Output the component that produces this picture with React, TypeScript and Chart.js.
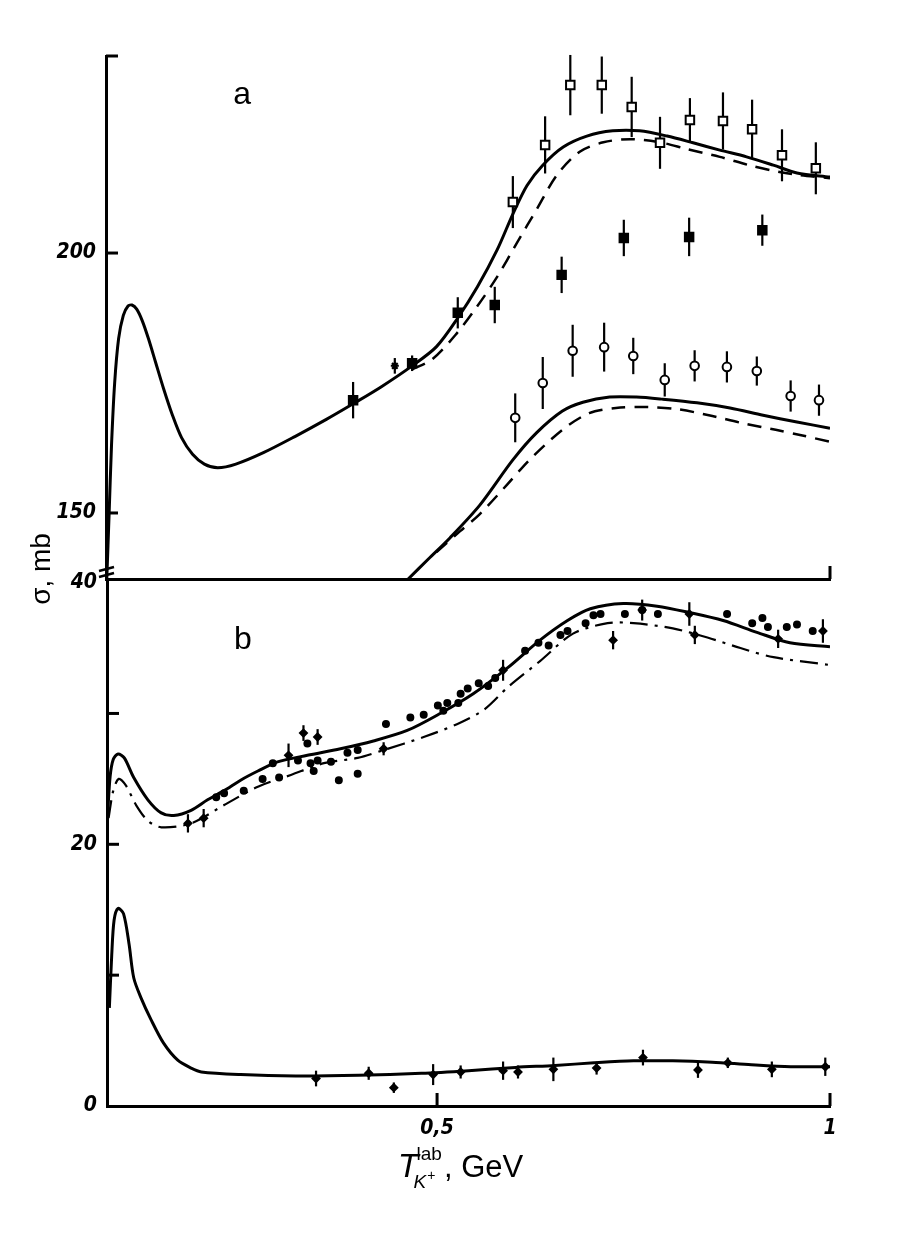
import { useEffect, useRef } from "react";
import { Chart, ChartConfiguration, Plugin, registerables } from "chart.js";

Chart.register(...registerables);

// ---- panel a (upper range, mb) ----
const aSolidHiX = [0.081, 0.084, 0.087, 0.091, 0.096, 0.102, 0.108, 0.113, 0.119, 0.126, 0.134, 0.143, 0.153, 0.164, 0.176, 0.19, 0.205, 0.222, 0.245, 0.28, 0.32, 0.36, 0.394, 0.43, 0.469, 0.5, 0.527, 0.552, 0.577, 0.597, 0.615, 0.635, 0.661, 0.691, 0.724, 0.758, 0.793, 0.826, 0.86, 0.894, 0.928, 0.958, 1.0];
const aSolidHiY = [137.3, 150, 163, 175, 183.5, 188, 189.8, 190.0, 189.2, 187, 183.5, 179, 174, 169, 164.5, 161.3, 159.4, 158.7, 159.4, 161.6, 164.7, 168, 171, 174.3, 178.3, 182, 187.5, 193.5, 200.6, 207.5, 213, 216.9, 220.4, 222.5, 223.5, 223.5, 222.5, 221.2, 219.8, 218.5, 216.9, 215.4, 214.6];

const aDashHiX = [0.469, 0.495, 0.526, 0.551, 0.577, 0.602, 0.628, 0.653, 0.682, 0.712, 0.746, 0.784, 0.818, 0.86, 0.902, 0.936, 0.962, 1.0];
const aDashHiY = [177.6, 179.6, 184.6, 189.6, 195.4, 201.9, 208.6, 215.0, 219.5, 221.3, 221.9, 221.3, 220.0, 218.5, 216.7, 215.6, 215.0, 214.4];

const aSolidLoX = [0.464, 0.49, 0.517, 0.555, 0.597, 0.627, 0.66, 0.686, 0.72, 0.754, 0.787, 0.831, 0.873, 0.915, 0.958, 1.0];
const aSolidLoY = [137.3, 141.2, 145.2, 151.5, 160.2, 165.4, 169.6, 171.3, 172.3, 172.3, 171.9, 171.2, 170.2, 168.8, 167.5, 166.3];

const aDashLoX = [0.5, 0.53, 0.555, 0.59, 0.618, 0.66, 0.694, 0.728, 0.761, 0.804, 0.846, 0.888, 0.931, 0.965, 1.0];
const aDashLoY = [142.5, 146.5, 149.8, 155.5, 160.2, 166.0, 169.2, 170.2, 170.4, 170.0, 168.8, 167.3, 166.0, 164.9, 163.7];

const aOpenSqX = [0.597, 0.638, 0.67, 0.71, 0.748, 0.784, 0.822, 0.864, 0.901, 0.939, 0.982];
const aOpenSqY = [209.8, 220.8, 232.3, 232.3, 228.1, 221.2, 225.6, 225.4, 223.8, 218.8, 216.3];
const aOpenSqErr = [5, 5.5, 5.8, 5.5, 5.8, 5, 4.2, 5.5, 5.7, 5, 5];

const aFullSqX = [0.394, 0.469, 0.527, 0.574, 0.659, 0.738, 0.821, 0.914];
const aFullSqY = [171.7, 178.8, 188.5, 190.0, 195.8, 202.9, 203.1, 204.4];
const aFullSqErr = [3.5, 1.5, 3, 3.5, 3.5, 3.5, 3.7, 3];

const aStarX = [0.447];
const aStarY = [178.3];
const aStarErr = [1.5];

const aOpenCircX = [0.6, 0.635, 0.673, 0.713, 0.75, 0.79, 0.828, 0.869, 0.907, 0.95, 0.986];
const aOpenCircY = [168.3, 175.0, 181.2, 181.9, 180.2, 175.6, 178.3, 178.1, 177.3, 172.5, 171.7];
const aOpenCircErr = [4.7, 5, 5, 4.7, 3.5, 3.2, 3, 3, 2.8, 3, 3];

// ---- panel b (lower range, mb) ----
const bSolidX = [0.081, 0.084, 0.088, 0.094, 0.102, 0.114, 0.132, 0.149, 0.165, 0.187, 0.208, 0.229, 0.25, 0.272, 0.297, 0.335, 0.377, 0.419, 0.462, 0.504, 0.546, 0.59, 0.631, 0.666, 0.695, 0.737, 0.78, 0.822, 0.864, 0.907, 0.949, 1.0];
const bSolidY = [22.5, 25.2, 26.5, 26.9, 26.6, 25.1, 23.4, 22.4, 22.2, 22.6, 23.4, 24.1, 24.9, 25.6, 26.3, 26.8, 27.3, 27.9, 28.7, 30.0, 31.5, 33.5, 35.6, 37.1, 38.0, 38.4, 38.2, 37.7, 37.1, 36.2, 35.4, 35.1];

const bDashX = [0.082, 0.088, 0.095, 0.104, 0.117, 0.132, 0.149, 0.187, 0.229, 0.272, 0.314, 0.356, 0.399, 0.432, 0.483, 0.526, 0.56, 0.59, 0.631, 0.673, 0.717, 0.75, 0.8, 0.844, 0.886, 0.928, 1.0];
const bDashY = [22.0, 24.1, 25.0, 24.5, 23.0, 21.8, 21.3, 21.6, 23.0, 24.4, 25.3, 26.2, 26.6, 27.2, 28.2, 29.2, 30.3, 32.0, 34.0, 36.1, 36.9, 36.9, 36.5, 35.8, 35.0, 34.3, 33.7];

const bLowX = [0.083, 0.086, 0.089, 0.094, 0.101, 0.108, 0.114, 0.123, 0.136, 0.152, 0.17, 0.187, 0.2, 0.25, 0.32, 0.4, 0.48, 0.54, 0.6, 0.65, 0.7, 0.75, 0.8, 0.85, 0.9, 0.95, 1.0];
const bLowY = [7.5, 11.5, 14.2, 15.1, 14.7, 12.4, 9.8, 8.3, 6.6, 4.8, 3.5, 2.9, 2.6, 2.4, 2.3, 2.35, 2.5, 2.7, 2.95, 3.1, 3.3, 3.45, 3.45, 3.35, 3.15, 3.0, 3.0];

const bDotX = [0.219, 0.229, 0.254, 0.278, 0.291, 0.299, 0.323, 0.335, 0.339, 0.343, 0.348, 0.365, 0.375, 0.386, 0.399, 0.399, 0.435, 0.466, 0.483, 0.501, 0.508, 0.513, 0.527, 0.53, 0.539, 0.553, 0.565, 0.574, 0.612, 0.629, 0.642, 0.657, 0.666, 0.689, 0.699, 0.708, 0.739, 0.761, 0.781, 0.869, 0.901, 0.914, 0.921, 0.945, 0.958, 0.978];
const bDotY = [23.6, 23.9, 24.1, 25.0, 26.2, 25.1, 26.4, 27.7, 26.2, 25.6, 26.4, 26.3, 24.9, 27.0, 25.4, 27.2, 29.2, 29.7, 29.9, 30.6, 30.2, 30.8, 30.8, 31.5, 31.9, 32.3, 32.1, 32.7, 34.8, 35.4, 35.2, 36.0, 36.3, 36.9, 37.5, 37.6, 37.6, 37.9, 37.6, 37.6, 36.9, 37.3, 36.6, 36.6, 36.8, 36.3];

const bCrossX = [0.183, 0.203, 0.311, 0.33, 0.348, 0.432, 0.584, 0.724, 0.761, 0.821, 0.828, 0.934, 0.991];
const bCrossY = [21.6, 22.0, 26.8, 28.5, 28.2, 27.3, 33.3, 35.6, 37.9, 37.6, 36.0, 35.7, 36.3];
const bCrossErr = [0.7, 0.7, 0.9, 0.6, 0.6, 0.5, 0.8, 0.7, 0.8, 0.9, 0.7, 0.7, 0.9];

const bLowPtX = [0.346, 0.413, 0.445, 0.495, 0.53, 0.584, 0.603, 0.648, 0.703, 0.762, 0.832, 0.87, 0.926, 0.994];
const bLowPtY = [2.1, 2.5, 1.4, 2.4, 2.6, 2.7, 2.6, 2.8, 2.9, 3.7, 2.75, 3.3, 2.8, 3.0];
const bLowPtErr = [0.6, 0.5, 0.4, 0.8, 0.5, 0.7, 0.5, 0.9, 0.5, 0.6, 0.6, 0.4, 0.6, 0.7];

// ---- axes ----
const xMin = 0.08;
const xMax = 1.0;
const aMin = 137.3;
const aMax = 237.9;
const aTicks = [150, 200, aMax];
const aTickLabels = [150, 200];
const bTicks = [0, 10, 20, 30, 40];
const bTickLabels = [0, 20, 40];
const xTicks = [0.5, 1];

const tickFont = {
  family: '"Liberation Sans Narrow", "DejaVu Sans Condensed", "DejaVu Sans", sans-serif',
  size: 21,
  style: "italic" as const,
  weight: "bold" as const,
};
const textFamily = '"Liberation Sans", Arial, sans-serif';

const pts = (xs: number[], ys: number[]) => xs.map((x, i) => ({ x, y: ys[i] }));

const curve = (xs: number[], ys: number[], dash: number[] = [], width = 3) => ({
  data: pts(xs, ys),
  showLine: true,
  pointRadius: 0,
  borderColor: "#000",
  borderWidth: width,
  borderDash: dash,
  tension: 0.3,
  fill: false,
});

const marks = (xs: number[], ys: number[], errs: number[] | null, style: string, r: number, fillColor: string) => ({
  data: pts(xs, ys),
  errors: errs,
  showLine: false,
  pointStyle: style,
  pointRadius: r,
  pointBackgroundColor: fillColor,
  pointBorderColor: "#000",
  pointBorderWidth: 2,
});

// vertical error bars, drawn under the markers
const errorBars: Plugin = {
  id: "errorBars",
  beforeDatasetsDraw(chart) {
    const { ctx, scales } = chart;
    ctx.save();
    ctx.strokeStyle = "#000";
    ctx.lineWidth = 2.2;
    chart.data.datasets.forEach((ds: any) => {
      if (!ds.errors) return;
      ds.data.forEach((p: any, i: number) => {
        const e = ds.errors[i];
        const px = scales.x.getPixelForValue(p.x);
        ctx.beginPath();
        ctx.moveTo(px, scales.y.getPixelForValue(p.y - e));
        ctx.lineTo(px, scales.y.getPixelForValue(p.y + e));
        ctx.stroke();
      });
    });
    ctx.restore();
  },
};

// inward ticks, axis break, panel letter and axis titles
const decor: Plugin = {
  id: "decor",
  afterDraw(chart, _args, opts: any) {
    const { ctx, scales, chartArea: area } = chart;
    ctx.save();
    ctx.strokeStyle = "#000";
    ctx.fillStyle = "#000";
    ctx.lineWidth = 3;
    (opts.yTicks || []).forEach((v: number) => {
      const py = scales.y.getPixelForValue(v);
      ctx.beginPath();
      ctx.moveTo(area.left, py);
      ctx.lineTo(area.left + 12, py);
      ctx.stroke();
    });
    (opts.xTicks || []).forEach((v: number) => {
      const px = scales.x.getPixelForValue(v);
      ctx.beginPath();
      ctx.moveTo(px, area.bottom);
      ctx.lineTo(px, area.bottom - 13);
      ctx.stroke();
    });
    if (opts.axisBreak) {
      ctx.lineWidth = 2.5;
      [10, 4].forEach((d) => {
        const y = area.bottom - d;
        ctx.beginPath();
        ctx.moveTo(area.left - 7, y + 2);
        ctx.lineTo(area.left + 8, y - 2);
        ctx.stroke();
      });
    }
    if (opts.letter) {
      ctx.font = `32px ${textFamily}`;
      ctx.textAlign = "center";
      ctx.textBaseline = "middle";
      ctx.fillText(opts.letter, scales.x.getPixelForValue(opts.letterX), scales.y.getPixelForValue(opts.letterY));
    }
    if (opts.yTitle) {
      ctx.translate(area.left - 64, area.bottom - 10);
      ctx.rotate(-Math.PI / 2);
      ctx.font = `28px ${textFamily}`;
      ctx.textAlign = "center";
      ctx.textBaseline = "middle";
      ctx.fillText(opts.yTitle, 0, 0);
      ctx.setTransform(1, 0, 0, 1, 0, 0);
    }
    if (opts.xTitle) {
      const base = area.bottom + 71;
      const big = `italic 34px ${textFamily}`;
      const small = `19px ${textFamily}`;
      const smallIt = `italic 19px ${textFamily}`;
      const rest = `31px ${textFamily}`;
      ctx.textAlign = "left";
      ctx.textBaseline = "alphabetic";
      ctx.font = big;
      const wT = ctx.measureText("T").width;
      ctx.font = small;
      const wLab = ctx.measureText("lab").width;
      ctx.font = rest;
      const wRest = ctx.measureText(", GeV").width;
      const total = wT + wLab + wRest;
      let x0 = (area.left + area.right) / 2 - total / 2 - 8;
      ctx.font = big;
      ctx.fillText("T", x0, base);
      x0 += wT - 2;
      ctx.font = small;
      ctx.fillText("lab", x0, base - 17);
      ctx.font = smallIt;
      ctx.fillText("K", x0 - 3, base + 11);
      const wK = ctx.measureText("K").width;
      ctx.font = `14px ${textFamily}`;
      ctx.fillText("+", x0 - 2 + wK, base + 3);
      x0 += wLab + 2;
      ctx.font = rest;
      ctx.fillText(", GeV", x0, base);
    }
    ctx.restore();
  },
};

const yAxis = (min: number, max: number, ticks: number[], labels: number[], width: number) => ({
  type: "linear" as const,
  min,
  max,
  grid: { display: false, drawTicks: false },
  border: { display: true, color: "#000", width: 3 },
  ticks: {
    color: "#000",
    font: tickFont,
    padding: 10,
    callback: (v: any) => (labels.includes(v) ? String(v) : ""),
  },
  afterBuildTicks: (s: any) => {
    s.ticks = ticks.map((value) => ({ value }));
  },
  afterFit: (s: any) => {
    s.width = width;
  },
});

function topConfig(): ChartConfiguration {
  return {
    type: "scatter",
    data: {
      datasets: [
        marks(aOpenSqX, aOpenSqY, aOpenSqErr, "rect", 6, "#fff"),
        marks(aFullSqX, aFullSqY, aFullSqErr, "rect", 6, "#000"),
        marks(aStarX, aStarY, aStarErr, "star", 4, "#000"),
        marks(aOpenCircX, aOpenCircY, aOpenCircErr, "circle", 4.3, "#fff"),
        curve(aSolidHiX, aSolidHiY),
        curve(aDashHiX, aDashHiY, [14, 9], 2.5),
        curve(aSolidLoX, aSolidLoY),
        curve(aDashLoX, aDashLoY, [14, 9], 2.5),
      ] as any,
    },
    options: {
      animation: false,
      responsive: false,
      layout: { padding: { left: 0, top: 56, right: 89, bottom: 61 } },
      scales: {
        x: {
          type: "linear",
          min: xMin,
          max: xMax,
          grid: { display: false, drawTicks: false },
          border: { display: true, color: "#000", width: 3 },
          ticks: { display: false },
          afterFit: (s: any) => {
            s.height = 0;
          },
        },
        y: yAxis(aMin, aMax, aTicks, aTickLabels, 106) as any,
      },
      plugins: {
        legend: { display: false },
        tooltip: { enabled: false },
        decor: {
          yTicks: aTicks,
          xTicks: [1],
          axisBreak: true,
          letter: "a",
          letterX: 0.253,
          letterY: 230.4,
          yTitle: "σ, mb",
        },
      } as any,
    },
    plugins: [errorBars, decor],
  };
}

function bottomConfig(): ChartConfiguration {
  return {
    type: "scatter",
    data: {
      datasets: [
        marks(bDotX, bDotY, null, "circle", 3, "#000"),
        marks(bCrossX, bCrossY, bCrossErr, "rectRot", 3.5, "#000"),
        marks(bLowPtX, bLowPtY, bLowPtErr, "rectRot", 3.5, "#000"),
        curve(bSolidX, bSolidY),
        curve(bDashX, bDashY, [18, 7, 3, 7], 2.2),
        curve(bLowX, bLowY),
      ] as any,
    },
    options: {
      animation: false,
      responsive: false,
      layout: { padding: { left: 0, top: 22, right: 89, bottom: 33 } },
      scales: {
        x: {
          type: "linear",
          min: xMin,
          max: xMax,
          grid: { display: false, drawTicks: false },
          border: { display: true, color: "#000", width: 3 },
          ticks: {
            color: "#000",
            font: tickFont,
            padding: 10,
            maxRotation: 0,
            callback: (v: any) => (v === 0.5 ? "0,5" : v === 1 ? "1" : ""),
          },
          afterBuildTicks: (s: any) => {
            s.ticks = xTicks.map((value) => ({ value }));
          },
          afterFit: (s: any) => {
            s.height = 100;
          },
        },
        y: yAxis(0, 40, bTicks, bTickLabels, 107) as any,
      },
      plugins: {
        legend: { display: false },
        tooltip: { enabled: false },
        decor: {
          yTicks: [10, 20, 30],
          xTicks: xTicks,
          letter: "b",
          letterX: 0.253,
          letterY: 35.6,
          xTitle: true,
        },
      } as any,
    },
    plugins: [errorBars, decor],
  };
}

function App() {
  const topRef = useRef<HTMLCanvasElement | null>(null);
  const botRef = useRef<HTMLCanvasElement | null>(null);

  useEffect(() => {
    if (!topRef.current || !botRef.current) return;
    const top = new Chart(topRef.current, topConfig());
    const bottom = new Chart(botRef.current, bottomConfig());
    return () => {
      top.destroy();
      bottom.destroy();
    };
  }, []);

  return (
    <div style={{ position: "absolute", left: 0, top: 0, width: 919, height: 1239, background: "#fff" }}>
      <canvas ref={topRef} width={919} height={640} style={{ position: "absolute", left: 0, top: 0 }} />
      <canvas ref={botRef} width={919} height={679} style={{ position: "absolute", left: 0, top: 560 }} />
    </div>
  );
}

export default App;
